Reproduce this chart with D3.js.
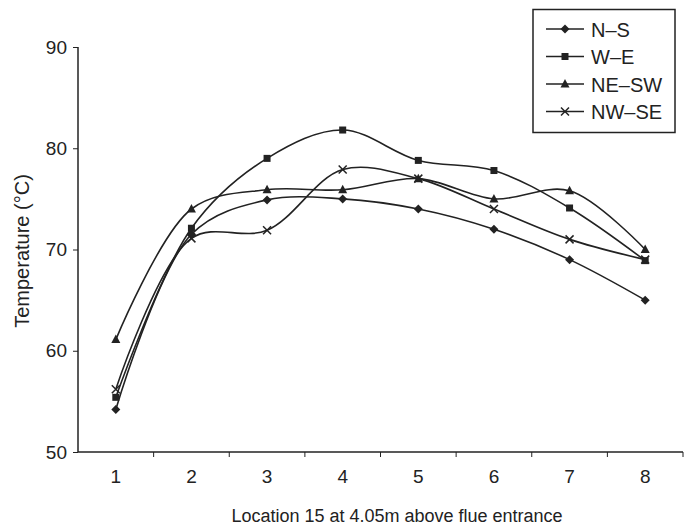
<!DOCTYPE html>
<html><head><meta charset="utf-8">
<script src="https://cdn.jsdelivr.net/npm/d3@7"></script>
<style>body{margin:0;background:#fff}svg{display:block}text{font-family:"Liberation Sans",Arial,sans-serif;fill:#222}</style>
</head><body><svg id="c" width="689" height="528"></svg>
<script>
const categories = [1,2,3,4,5,6,7,8];
const seriesNames = ["N–S","W–E","NE–SW","NW–SE"];
const nsValues   = [54.2,71.5,74.9,75,74,72,69,65];
const weValues   = [55.4,72.1,79,81.8,78.8,77.8,74.1,68.9];
const neswValues = [61.1,74,75.9,75.9,77,75,75.8,70];
const nwseValues = [56.2,71.1,71.9,77.9,77,74,71,69];
const yTicks = [50,60,70,80,90];
const markers = ["diamond","square","triangle","cross"];

const svg = d3.select("#c");
const x = d3.scaleBand().domain(categories).range([78,683]);
const y = d3.scaleLinear().domain([50,90]).range([452,47]);
const ink = "#222";

// y axis
const ya = svg.append("g").attr("transform","translate(78,0)")
  .call(d3.axisLeft(y).tickValues(yTicks).tickSize(5).tickPadding(6));
ya.select(".domain").attr("stroke",ink).attr("stroke-width",1.5).attr("d","M0,47V452");
ya.selectAll(".tick line").attr("stroke",ink);
ya.selectAll("text").attr("font-size",19).style("fill",ink);

// x axis
const xa = svg.append("g").attr("transform","translate(0,452)")
  .call(d3.axisBottom(x).tickSize(0).tickPadding(17.5));
xa.select(".domain").attr("stroke",ink).attr("stroke-width",1.5).attr("d","M78,0H683");
xa.selectAll("text").attr("font-size",19).style("fill",ink);
const bounds = categories.slice(1).map(c=>x(c)).concat([683]);
xa.selectAll(".bt").data(bounds).enter().append("line")
  .attr("x1",d=>d).attr("x2",d=>d).attr("y1",0).attr("y2",5).attr("stroke",ink);

// titles
svg.append("text").attr("transform","translate(29,251) rotate(-90)")
  .attr("text-anchor","middle").attr("font-size",20).text("Temperature (°C)");
svg.append("text").attr("x",397).attr("y",522).attr("text-anchor","middle")
  .attr("font-size",18).text("Location 15 at 4.05m above flue entrance");

function marker(g, type){
  if(type==="diamond") g.append("path").attr("d","M0,-4.5L4.5,0L0,4.5L-4.5,0Z").attr("fill",ink);
  else if(type==="square") g.append("rect").attr("x",-3.5).attr("y",-3.5).attr("width",7).attr("height",7).attr("fill",ink);
  else if(type==="triangle") g.append("path").attr("d","M0,-5L4.5,3.5L-4.5,3.5Z").attr("fill",ink);
  else g.append("path").attr("d","M-4,-4L4,4M4,-4L-4,4").attr("stroke",ink).attr("stroke-width",1.5).attr("fill","none");
}

const allSeries = [nsValues,weValues,neswValues,nwseValues];
const line = d3.line().x((d,i)=>x(categories[i])+x.bandwidth()/2).y(d=>y(d)).curve(d3.curveCatmullRom.alpha(0.5));
allSeries.forEach((vals,si)=>{
  svg.append("path").attr("d",line(vals)).attr("fill","none").attr("stroke",ink).attr("stroke-width",1.6);
  vals.forEach((v,i)=>{
    const g = svg.append("g").attr("transform",`translate(${x(categories[i])+x.bandwidth()/2},${y(v)})`);
    marker(g, markers[si]);
  });
});

// legend
const lg = svg.append("g");
lg.append("rect").attr("x",533).attr("y",9.5).attr("width",142).attr("height",123)
  .attr("fill","#fff").attr("stroke",ink).attr("stroke-width",1.5);
seriesNames.forEach((n,i)=>{
  const yy = 29 + i*27.5;
  lg.append("line").attr("x1",546).attr("x2",584).attr("y1",yy).attr("y2",yy).attr("stroke",ink).attr("stroke-width",1.6);
  marker(lg.append("g").attr("transform",`translate(565,${yy})`), markers[i]);
  lg.append("text").attr("x",591).attr("y",yy+7.5).attr("font-size",20).text(n);
});
</script></body></html>
